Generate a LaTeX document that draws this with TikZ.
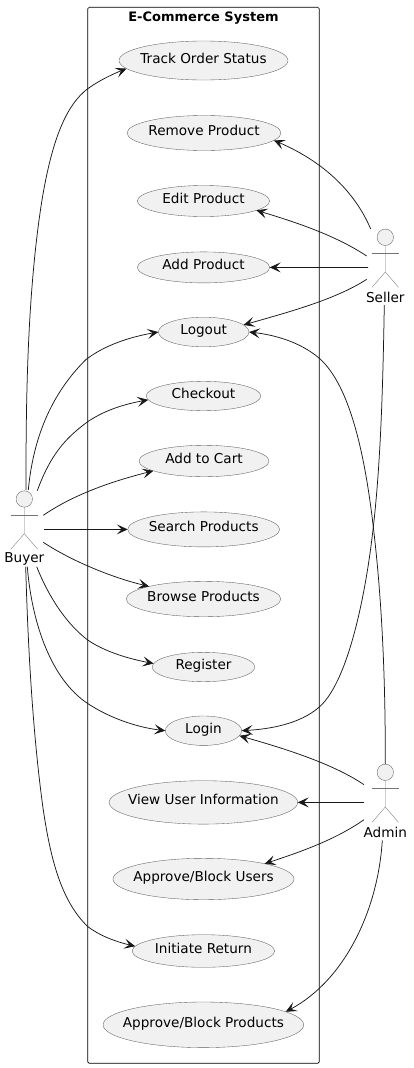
\documentclass[tikz,border=0pt]{standalone}
\usepackage{fontspec}
\setmainfont{DejaVu Sans}
\usetikzlibrary{shapes.geometric,arrows.meta}
\definecolor{pline}{HTML}{181818}
\definecolor{pfill}{HTML}{F1F1F1}
\newcommand{\uc}[5]{\node[usecase,minimum width=#4pt,minimum height=#5pt] (#1) at (#2) {\makebox[0pt]{#3}};}
\newcommand{\actr}[3]{%
  \node[actorhead] (#1) at (#2) {};
  \draw[actorline] (#1.south) -- ++(0,26.5) coordinate (#1hip) -- +(-13.2,15.3);
  \draw[actorline] (#1hip) -- +(13.2,15.3);
  \draw[actorline] ([shift={(-13.2,16)}]#1.center) -- ([shift={(13.2,16)}]#1.center);
  \node[actorlabel] (#1label) at ([shift={(0,59.8)}]#1.center) {#3};}
\tikzset{
  usecase/.style={ellipse,draw=pline!70,fill=pfill,line width=0.35pt,inner sep=0pt,outer sep=0pt,
    font=\fontsize{13.6}{15}\selectfont,text height=9pt,text depth=4pt},
  actorhead/.style={circle,draw=pline!70,fill=pfill,line width=0.35pt,minimum size=16.4pt,inner sep=0pt,outer sep=0pt},
  actorline/.style={draw=pline!60,line width=0.35pt},
  actorlabel/.style={font=\fontsize{13.6}{15}\selectfont,inner sep=0pt},
  link/.style={draw=pline,line width=0.75pt,-{Stealth[length=11pt,width=10pt,inset=5pt]}},
  sysbox/.style={draw=black,line width=0.7pt,rounded corners=1.5pt},
  systitle/.style={font=\bfseries\fontsize{13}{15}\selectfont,inner sep=0pt}
}
\begin{document}
\begin{tikzpicture}[x=1pt,y=-1pt]
\useasboundingbox (0,0) rectangle (413,1068);
\node[sysbox,minimum width=231.6pt,minimum height=1056pt,inner sep=0pt] (system) at (203.5,535.3) {};
\node[systitle] (title) at (203.5,18) {E-Commerce System};
\uc{track}{203.5,60.5}{Track Order Status}{169}{39}
\uc{remove}{204,133}{Remove Product}{154}{35}
\uc{edit}{203.5,201}{Edit Product}{132.4}{31}
\uc{addp}{203.5,267.4}{Add Product}{132.4}{31}
\uc{logout}{203.7,332}{Logout}{90.6}{29.6}
\uc{checkout}{203.5,396}{Checkout}{114.6}{29.4}
\uc{cart}{204,461}{Add to Cart}{130}{31.4}
\uc{search}{203.7,529.4}{Search Products}{152}{35}
\uc{browse}{203.5,599}{Browse Products}{154.6}{35.4}
\uc{register}{203.5,667}{Register}{102.6}{29.4}
\uc{login}{203.5,730.7}{Login}{76.4}{29.4}
\uc{view}{203.4,802.4}{View User Information}{188.6}{43.4}
\uc{users}{203.5,879}{Approve/Block Users}{181}{41.4}
\uc{initiate}{203.4,951}{Initiate Return}{142.6}{32.6}
\uc{products}{203.4,1024.8}{Approve/Block Products}{200.6}{45.6}
\actr{seller}{385.3,237.3}{Seller}
\actr{buyer}{24.3,499}{Buyer}
\actr{admin}{385.3,772.3}{Admin}
% Seller
\draw[link] ([shift={(-14.6,-8.3)}]seller.center) .. controls (352,185) and (315,158) .. (remove.-6.6);
\draw[link] ([shift={(-18.6,18.7)}]seller.center) .. controls (335,235) and (295,222) .. (edit.-10.4);
\draw[link] ([shift={(-17.3,30.1)}]seller.center) -- (addp.east);
\draw[link] ([shift={(-18.6,42)}]seller.center) .. controls (335,300) and (285,313) .. (logout.10.4);
\draw[link] ([shift={(-1,67.7)}]seller.center) .. controls (383,380) and (381,460) .. (373.3,527)
  .. controls (367,585) and (350,680) .. (319.3,707) .. controls (300,724) and (270,729) .. (login.east);
% Admin
\draw[link] (admin.north) .. controls (385.5,680) and (382,600) .. (373.3,527)
  .. controls (365,455) and (350,385) .. (319,358) .. controls (300,342) and (275,335) .. (logout.east);
\draw[link] ([shift={(-21.3,12.4)}]admin.center) .. controls (335,765) and (290,750) .. (login.-8.7);
\draw[link] ([shift={(-21.3,30.1)}]admin.center) -- (view.east);
\draw[link] ([shift={(-21.3,47.4)}]admin.center) .. controls (335,840) and (300,852) .. (users.14.2);
\draw[link] ([shift={(-3,68)}]admin.center) .. controls (378,910) and (345,980) .. (products.9.4);
% Buyer
\draw[link] ([shift={(1.7,-9)}]buyer.center) .. controls (26,420) and (26,300) .. (42,200)
  .. controls (52,140) and (66,105) .. (88,88.5) .. controls (100,80) and (113,74) .. (track.186.7);
\draw[link] ([shift={(4,-9)}]buyer.center) .. controls (33,440) and (50,395) .. (86,359.5)
  .. controls (105,345) and (130,337) .. (logout.west);
\draw[link] ([shift={(13,-8.3)}]buyer.center) .. controls (52,450) and (70,435) .. (87.7,421.7)
  .. controls (105,410) and (125,404) .. (checkout.184);
\draw[link] ([shift={(19,16.3)}]buyer.center) .. controls (70,497) and (105,483) .. (cart.191);
\draw[link] ([shift={(19.7,30.4)}]buyer.center) -- (search.west);
\draw[link] ([shift={(19,43.3)}]buyer.center) .. controls (70,560) and (110,577) .. (browse.167.8);
\draw[link] ([shift={(12.4,67.7)}]buyer.center) .. controls (50,600) and (68,625) .. (87.7,640)
  .. controls (105,652) and (130,659) .. (register.176);
\draw[link] ([shift={(3,67.7)}]buyer.center) .. controls (32,625) and (52,680) .. (87.7,703.5)
  .. controls (108,717) and (135,727) .. (login.west);
\draw[link] ([shift={(1.4,67.7)}]buyer.center) .. controls (28,650) and (33,735) .. (43,808)
  .. controls (50,855) and (60,900) .. (87.7,926.5) .. controls (100,936) and (117,942) .. (initiate.176);
\end{tikzpicture}
\end{document}
